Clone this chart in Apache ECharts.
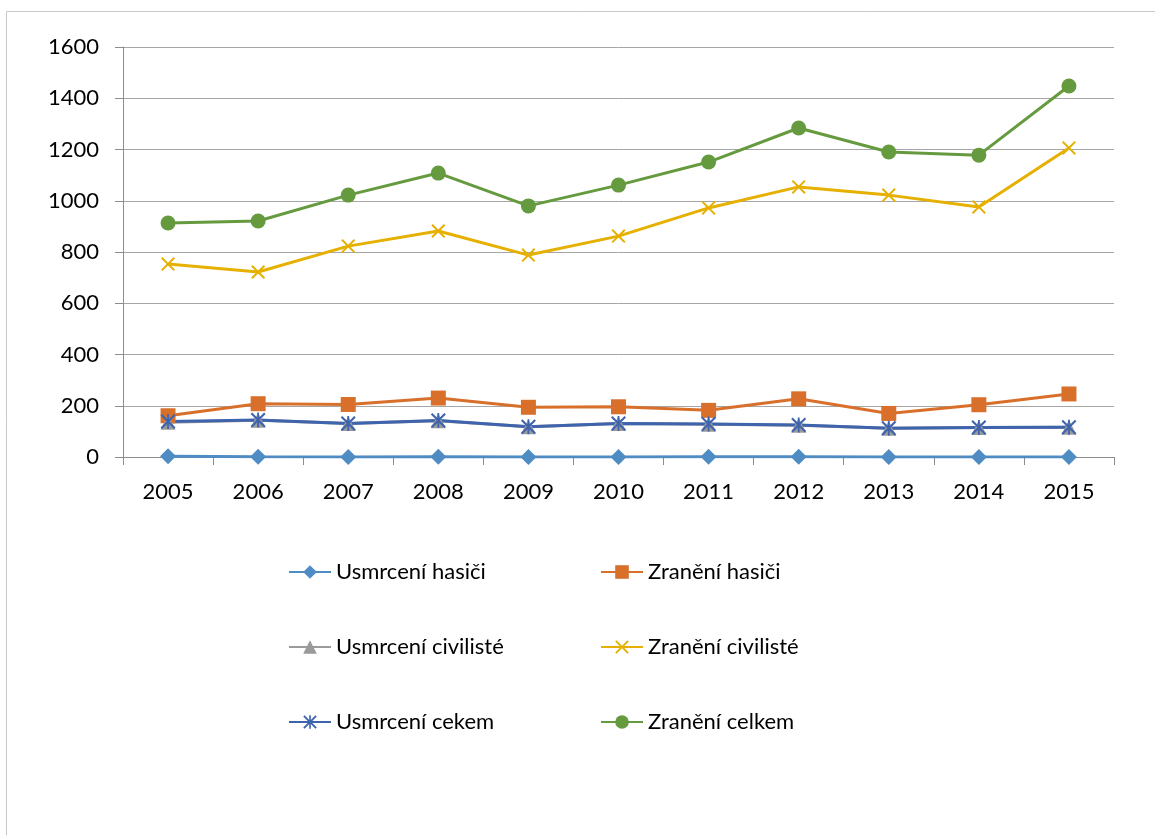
<!DOCTYPE html>
<html>
<head>
<meta charset="utf-8">
<script src="https://cdn.jsdelivr.net/npm/echarts@6/dist/echarts.min.js"></script>
<style>
  html, body { margin: 0; padding: 0; background: #fff; }
  #chart { width: 1155px; height: 835px; }
</style>
</head>
<body>
<div id="chart"></div>
<script>
// roky
const years = ['2005', '2006', '2007', '2008', '2009', '2010', '2011', '2012', '2013', '2014', '2015']

// hodnoty
const usmrceniHasici = [3, 1, 0, 1, 0, 0, 1, 1, 0, 0, 0]
const zraneniHasici = [161, 208, 205, 230, 194, 196, 182, 227, 170, 204, 246]
const usmrceniCivilisti = [136, 143, 131, 141, 118, 131, 128, 124, 112, 115, 116]
const zraneniCivilisti = [753, 722, 823, 882, 788, 862, 972, 1054, 1022, 976, 1206]
const usmrceniCelkem = [139, 144, 131, 142, 118, 131, 129, 125, 112, 115, 116]
const zraneniCelkem = [913, 921, 1022, 1108, 980, 1061, 1151, 1284, 1190, 1178, 1448]

const FONT = 'Lato'
const xMark = 'path://M0,1L1,0L5,4L9,0L10,1L6,5L10,9L9,10L5,6L1,10L0,9L4,5Z'
const starMark = 'path://M0,1L1,0L5,4L9,0L10,1L6,5L10,9L9,10L5,6L1,10L0,9L4,5ZM4.4,0L5.6,0L5.6,10L4.4,10Z'

const chart = echarts.init(document.getElementById('chart'))

const mkSeries = (name, data, color, symbol, size) => ({
  name,
  type: 'line',
  data,
  symbol,
  symbolSize: size,
  showSymbol: true,
  lineStyle: { color, width: 3 },
  itemStyle: { color, borderWidth: 0 },
  emphasis: { disabled: true },
  animation: false
})

const legendText = { color: '#000', fontSize: 22, fontFamily: FONT, lineHeight: 22 }

const option = {
  backgroundColor: '#fff',
  graphic: [{
    type: 'rect',
    shape: { x: 6.5, y: 11.5, width: 1300, height: 1000 },
    style: { fill: 'none', stroke: '#c8c8c8', lineWidth: 1 },
    silent: true
  }],
  grid: { left: 123, right: 41, top: 47, bottom: 378 },
  xAxis: {
    type: 'category',
    data: years,
    boundaryGap: true,
    axisLine: { lineStyle: { color: '#8c8c8c', width: 1 } },
    axisTick: { show: true, length: 8, lineStyle: { color: '#8c8c8c' } },
    axisLabel: { color: '#000', fontSize: 22, fontFamily: FONT, margin: 24 }
  },
  yAxis: {
    type: 'value',
    min: 0,
    max: 1600,
    interval: 200,
    axisLine: { show: true, lineStyle: { color: '#8c8c8c', width: 1 } },
    axisTick: { show: true, length: 8, lineStyle: { color: '#8c8c8c' } },
    axisLabel: {
      color: '#000', fontSize: 22, fontFamily: FONT, margin: 24,
      formatter: (v) => String(v)
    },
    splitLine: { lineStyle: { color: '#a6a6a6', width: 1 } }
  },
  legend: [
    {
      orient: 'vertical',
      left: 283,
      top: 556,
      itemWidth: 42,
      itemHeight: 17,
      itemGap: 53,
      textStyle: legendText,
      data: ['Usmrcení hasiči', 'Usmrcení civilisté', 'Usmrcení cekem']
    },
    {
      orient: 'vertical',
      left: 595,
      top: 556,
      itemWidth: 42,
      itemHeight: 17,
      itemGap: 53,
      textStyle: legendText,
      data: ['Zranění hasiči', 'Zranění civilisté', 'Zranění celkem']
    }
  ],
  series: [
    mkSeries('Usmrcení hasiči', usmrceniHasici, '#4f8cc4', 'diamond', 16),
    mkSeries('Zranění hasiči', zraneniHasici, '#d8702c', 'rect', 15),
    mkSeries('Usmrcení civilisté', usmrceniCivilisti, '#9a9a9a', 'triangle', 15),
    mkSeries('Zranění civilisté', zraneniCivilisti, '#e6b000', xMark, 14),
    mkSeries('Usmrcení cekem', usmrceniCelkem, '#3f64ae', starMark, 15),
    mkSeries('Zranění celkem', zraneniCelkem, '#659a3f', 'circle', 15)
  ]
}

chart.setOption(option)
</script>
</body>
</html>
